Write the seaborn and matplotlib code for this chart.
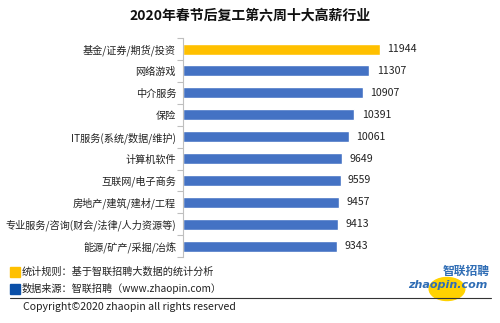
import matplotlib
matplotlib.use("Agg")
import matplotlib.pyplot as plt
import seaborn as sns
import pandas as pd
from matplotlib.patches import Rectangle, Circle
from matplotlib.lines import Line2D

categories = ["基金/证券/期货/投资", "网络游戏", "中介服务", "保险", "IT服务(系统/数据/维护)",
              "计算机软件", "互联网/电子商务", "房地产/建筑/建材/工程",
              "专业服务/咨询(财会/法律/人力资源等)", "能源/矿产/采掘/冶炼"]
salaries = [11944, 11307, 10907, 10391, 10061, 9649, 9559, 9457, 9413, 9343]
title = "2020年春节后复工第六周十大高薪行业"
note_rule = "统计规则：基于智联招聘大数据的统计分析"
note_source = "数据来源：智联招聘（www.zhaopin.com）"
copyright_text = "Copyright©2020 zhaopin all rights reserved"

sns.set_theme(style="white")
plt.rcParams['font.family'] = ['Noto Sans CJK SC', 'DejaVu Sans']

df = pd.DataFrame({"cat": categories, "val": salaries})
colors = ["#FFC000"] + ["#4472C4"] * (len(categories) - 1)

fig = plt.figure(figsize=(5.0, 3.23), dpi=100)
ax = fig.add_axes([0.366, 0.204, 0.6, 0.678])
sns.barplot(data=df, y="cat", x="val", hue="cat", palette=colors, legend=False,
            width=0.5, ax=ax, saturation=1)

ax.set_xlim(0, 18200)
ax.set_ylim(len(categories) - 0.5, -0.5)
ax.set_xlabel("")
ax.set_ylabel("")
ax.set_xticks([])
for s in ["top", "right", "bottom"]:
    ax.spines[s].set_visible(False)
ax.spines["left"].set_color("#BFBFBF")
ax.spines["left"].set_linewidth(0.8)
ax.tick_params(axis="y", which="major", length=0, pad=5, labelsize=7.3, labelcolor="#222222")
ax.set_yticks([i - 0.5 for i in range(len(categories) + 1)], minor=True)
ax.tick_params(axis="y", which="minor", length=4, color="#BFBFBF", width=0.8, left=True)

for i, v in enumerate(salaries):
    ax.text(v + 450, i, f"{v}", va="center", ha="left", fontsize=7.6, color="#222222")

fig.text(0.5, 0.953, title, ha="center", va="center", fontsize=10, fontweight="bold", color="#111111")

# footer
fig.patches.append(Rectangle((10 / 500, 1 - 277 / 323), 10 / 500, 10 / 323,
                             transform=fig.transFigure, color="#FFC000", figure=fig))
fig.patches.append(Rectangle((10 / 500, 1 - 294 / 323), 10 / 500, 10 / 323,
                             transform=fig.transFigure, color="#0A4FA8", figure=fig))
fig.text(22 / 500, 1 - 272 / 323, note_rule, ha="left", va="center", fontsize=7.3, color="#222222")
fig.text(22 / 500, 1 - 289 / 323, note_source, ha="left", va="center", fontsize=7.3, color="#222222")
fig.lines.append(Line2D([10 / 500, 491 / 500], [1 - 298 / 323] * 2, transform=fig.transFigure,
                        color="#333333", linewidth=0.8, figure=fig))
fig.text(23 / 500, 1 - 307 / 323, copyright_text, ha="left", va="center", fontsize=7.6, color="#222222")

# logo
fig.patches.append(Circle((447 / 500, 1 - 289 / 323), 11.5 / 323, transform=fig.transFigure,
                          color="#FFD200", figure=fig))
fig.text(466 / 500, 1 - 271 / 323, "智联招聘", ha="center", va="center", fontsize=8.5,
         fontweight="bold", color="#2F6DB5")
fig.text(448 / 500, 1 - 285 / 323, "zhaopin.com", ha="center", va="center", fontsize=8,
         fontweight="bold", fontstyle="italic", color="#2F6DB5", family=["DejaVu Sans"])

fig.savefig("out.png", dpi=100, facecolor="white")
